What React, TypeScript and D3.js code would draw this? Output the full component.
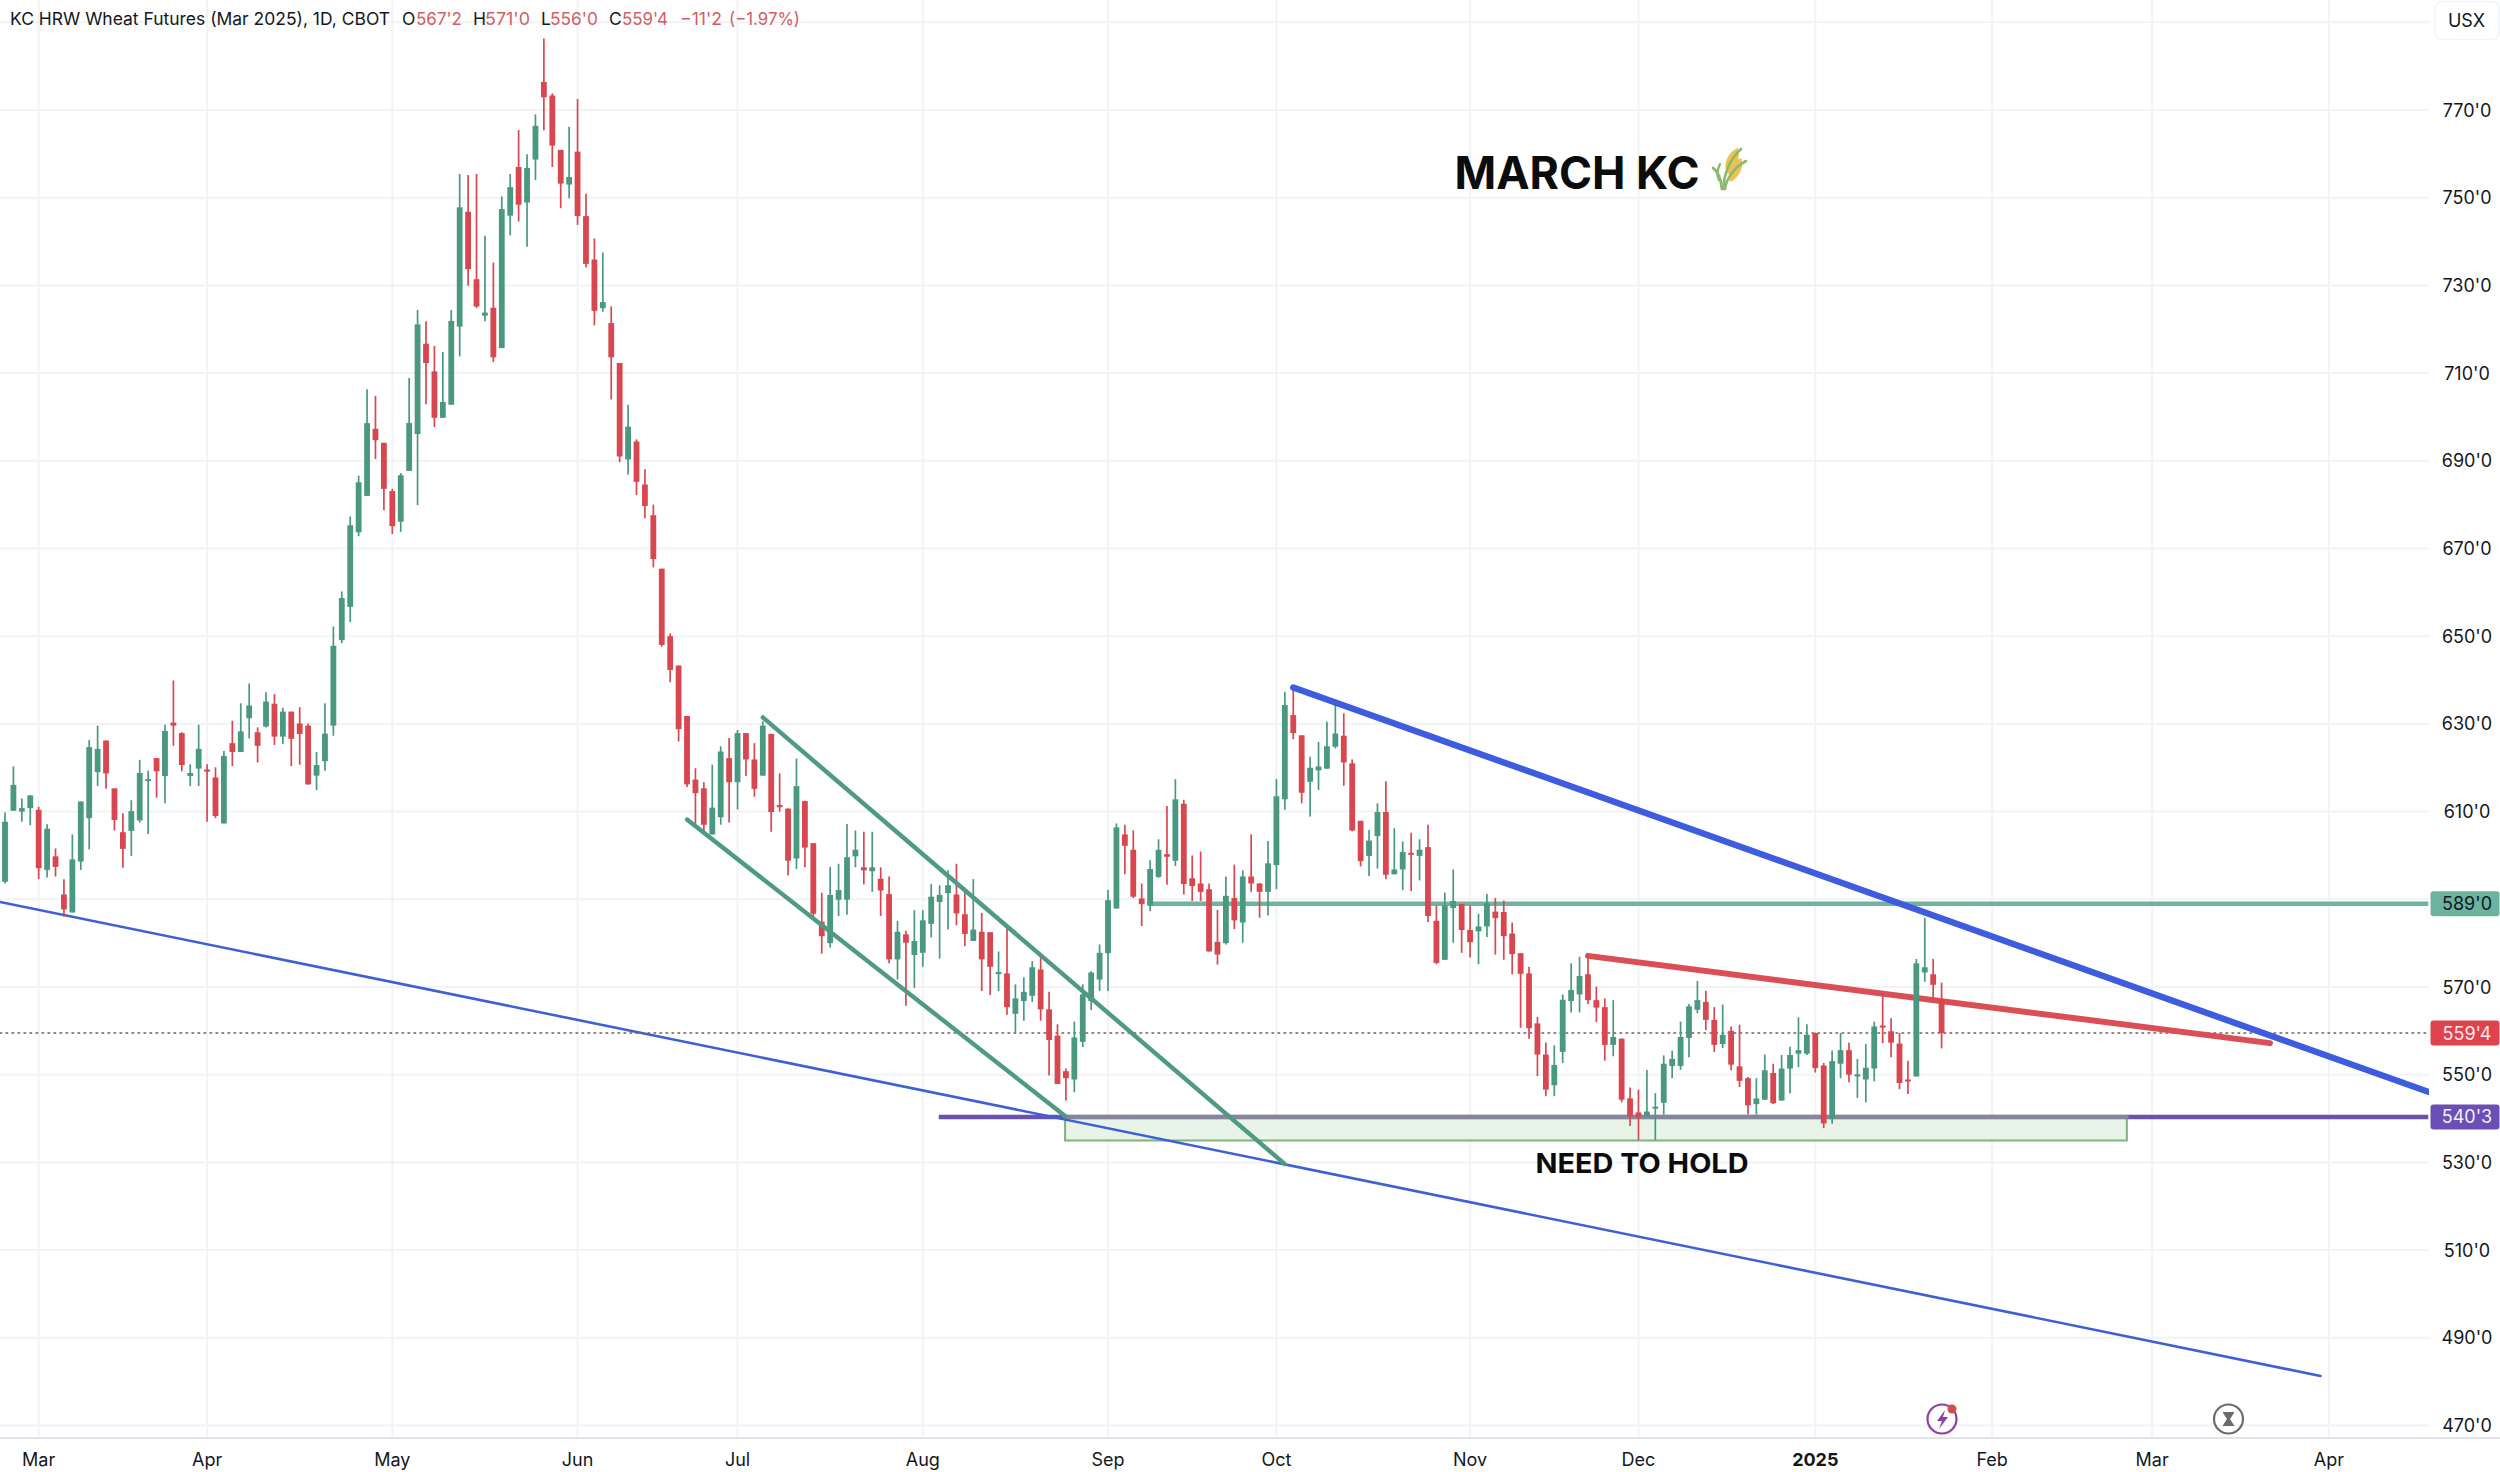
import React from "react";
import * as d3 from "d3";

const highs = [
609.8,620.3,613.0,613.7,611.1,607.1,601.6,594.6,604.8,612.3,
626.3,629.6,626.2,615.3,609.6,612.6,621.8,619.3,622.2,629.8,
639.9,628.1,620.8,629.8,620.8,620.1,623.8,630.7,634.7,639.2,
629.2,637.2,636.8,633.7,632.8,633.8,630.1,623.6,634.7,652.2,
660.2,677.3,686.6,706.3,704.8,694.1,683.6,687.2,708.9,724.4,
721.8,716.2,714.8,724.4,755.4,755.2,755.4,741.3,735.2,750.3,
755.4,765.4,759.9,769.0,786.3,773.8,760.9,766.2,772.5,750.9,
740.7,737.5,725.2,712.3,702.8,694.9,688.1,680.0,665.4,650.6,
643.3,631.8,619.9,616.7,620.7,624.9,626.8,628.6,627.9,625.6,
630.6,627.8,618.7,610.7,622.1,612.5,602.8,591.5,597.4,598.1,
607.2,605.7,605.4,605.4,597.3,595.2,585.1,582.8,587.5,587.5,
593.5,593.2,596.6,598.1,592.7,594.6,586.9,582.5,578.1,583.8,
570.6,572.2,575.9,577.5,568.9,561.5,551.4,562.1,570.6,573.6,
579.7,592.1,607.3,607.0,605.7,593.6,598.9,603.7,611.3,617.4,
612.7,600.0,600.9,593.6,587.6,595.2,597.9,596.6,604.8,593.7,
603.3,617.4,637.3,638.3,627.4,622.5,625.9,630.5,634.9,632.4,
621.9,607.9,605.8,611.9,616.9,606.2,603.2,605.2,603.7,607.0,
588.6,591.5,596.8,588.9,588.6,586.7,591.2,590.3,589.7,584.7,
577.7,574.6,563.2,557.3,556.7,568.3,575.4,576.9,576.9,570.1,
567.4,567.0,558.3,547.1,546.6,551.1,545.8,554.4,555.5,562.1,
566.1,571.4,569.1,565.4,566.0,561.0,561.4,549.5,549.2,554.6,
552.5,554.5,556.4,563.1,561.5,559.6,552.7,555.5,559.5,557.3,
553.6,557.0,562.1,568.6,562.9,559.5,553.2,576.4,585.8,576.4,
571.0];

const lows = [
593.6,610.2,607.7,606.9,594.6,595.0,595.2,586.0,587.0,596.7,
601.4,615.8,615.2,605.7,597.2,599.9,607.5,604.9,613.2,611.9,
625.0,619.2,615.8,615.8,607.7,608.5,607.3,620.4,623.6,626.7,
621.2,629.2,625.2,625.4,620.4,620.7,616.2,614.9,619.3,627.3,
648.4,653.2,672.8,682.0,690.4,678.7,673.3,673.8,687.7,679.9,
702.9,697.7,699.8,702.8,713.8,729.9,724.8,721.8,712.5,715.7,
741.4,744.6,738.8,754.0,765.4,757.0,747.6,749.9,743.8,734.1,
720.9,724.0,704.0,689.7,686.9,682.2,676.9,665.7,647.6,639.5,
626.0,615.6,607.2,605.6,604.8,607.0,607.5,610.5,618.1,613.4,
618.2,605.4,610.0,595.4,596.9,597.3,585.3,577.6,579.0,586.2,
586.5,597.3,593.4,591.7,586.2,575.4,571.7,565.7,569.8,574.6,
581.3,576.5,583.1,584.1,579.3,580.5,569.1,568.2,569.1,563.7,
559.5,562.3,566.6,562.3,549.8,547.9,544.1,546.0,556.3,564.7,
569.1,569.1,587.9,595.7,590.3,583.9,587.3,594.9,593.3,597.6,
591.1,589.6,589.6,578.1,575.1,579.7,583.2,580.1,591.7,585.8,
586.3,592.3,610.4,626.5,611.9,608.9,614.9,619.7,624.4,615.9,
605.5,597.5,595.3,597.0,594.6,595.7,592.1,591.9,594.3,584.8,
575.2,576.2,580.1,577.8,576.7,575.2,581.4,577.4,576.2,572.9,
560.7,558.2,549.7,545.1,545.1,552.7,564.2,564.2,566.1,562.0,
553.2,554.2,543.7,538.3,535.1,540.5,535.1,540.9,549.2,551.1,
554.0,564.0,560.2,555.2,556.1,551.0,547.2,540.9,540.9,544.2,
543.3,544.1,545.7,551.7,554.5,550.5,537.8,538.8,549.2,548.3,
544.7,543.7,548.5,557.2,554.0,546.7,545.6,549.6,571.2,567.4,
556.0];

const opens = [
594.0,610.2,610.0,610.8,610.4,596.7,599.8,591.1,587.0,598.6,
608.5,619.0,626.2,615.3,605.3,605.6,608.0,617.1,622.2,618.1,
630.3,627.9,618.1,619.8,619.6,617.8,607.3,625.6,623.6,631.3,
628.1,629.4,634.6,627.1,632.8,630.1,629.6,618.2,621.5,629.6,
649.1,656.7,673.7,682.0,697.3,694.1,683.1,676.1,687.7,696.1,
716.7,710.4,699.8,702.8,720.6,746.8,731.4,723.1,724.9,715.7,
745.9,757.0,748.9,758.7,776.4,773.3,760.9,753.0,760.5,745.8,
735.9,724.8,721.4,712.3,690.3,694.4,684.6,677.6,665.4,650.0,
643.3,631.8,617.3,615.3,604.8,608.7,622.2,616.7,627.9,621.9,
618.2,627.7,611.5,610.7,599.3,612.4,602.8,584.9,580.0,589.9,
589.9,599.8,597.3,596.4,594.7,591.2,576.3,582.0,577.3,577.8,
584.4,589.4,591.4,591.1,586.6,580.5,582.6,582.5,573.0,573.1,
563.9,566.8,568.0,574.0,564.9,558.9,550.8,548.9,557.5,566.8,
571.7,577.7,587.9,604.8,601.3,590.2,588.6,595.1,600.3,598.8,
611.8,594.8,593.6,592.3,580.3,580.0,590.3,584.7,595.2,593.6,
591.7,597.8,612.8,632.0,627.4,616.8,619.4,619.8,624.8,627.3,
621.0,607.9,599.9,604.4,609.9,595.7,596.8,600.6,599.9,601.9,
585.1,576.2,588.0,588.9,583.0,582.7,583.8,587.2,587.1,582.2,
577.7,573.1,561.7,554.6,547.6,555.2,566.8,568.3,572.9,567.0,
565.4,556.8,558.2,544.6,541.4,540.5,542.3,543.6,552.0,552.0,
558.4,564.8,566.6,562.5,557.0,560.0,551.9,549.2,543.3,544.3,
550.4,544.1,551.4,554.8,554.8,559.5,552.1,540.0,552.5,555.6,
549.6,548.9,551.4,561.2,559.9,557.1,548.9,549.6,573.3,572.9,
567.25];

const closes = [
607.7,616.1,610.8,613.7,597.1,606.1,597.4,587.7,599.1,612.3,
624.7,624.3,618.7,608.1,601.5,610.1,618.8,617.4,619.2,628.4,
629.6,620.6,618.8,624.3,619.1,609.0,622.7,623.6,628.3,634.2,
625.0,635.1,627.1,632.8,626.6,627.7,616.2,620.6,627.8,647.8,
658.7,675.3,685.1,698.6,694.7,683.6,675.1,686.7,698.6,721.1,
712.3,699.8,703.4,721.9,747.8,733.7,725.2,723.8,713.6,747.4,
752.4,748.4,756.8,766.4,772.9,761.9,753.2,754.7,745.8,734.9,
724.2,726.2,713.6,691.0,697.8,685.2,679.7,667.6,648.0,642.3,
628.8,616.2,614.2,607.0,610.9,623.7,616.7,627.9,621.9,615.2,
629.6,609.9,611.0,598.8,615.8,601.8,586.7,581.6,591.0,592.1,
599.6,601.3,596.6,597.3,592.0,576.3,582.6,580.1,580.5,585.2,
590.6,591.0,593.2,586.8,582.1,583.1,576.3,574.6,573.4,565.4,
567.4,568.9,574.5,564.9,557.9,547.9,549.2,558.5,568.3,573.3,
577.8,589.8,606.4,602.2,590.6,588.9,596.9,601.3,599.7,612.8,
593.5,593.0,591.7,578.1,577.4,590.8,585.2,595.2,593.6,591.7,
598.2,613.5,634.3,627.9,614.3,620.0,620.3,624.9,627.8,621.2,
605.7,598.7,603.4,609.9,595.6,596.8,600.8,600.3,601.3,586.2,
575.5,588.6,589.6,583.0,580.2,583.8,589.1,585.7,581.6,577.5,
573.0,560.6,554.6,546.6,552.2,567.1,569.3,572.5,567.0,565.3,
556.8,558.6,544.3,540.5,540.4,541.6,542.7,552.5,553.6,558.6,
565.6,567.0,562.5,556.8,559.1,552.3,548.6,543.0,544.6,551.0,
543.5,551.4,554.5,555.6,559.1,551.5,538.9,553.1,555.6,550.0,
550.1,551.6,561.0,560.8,557.3,548.1,548.5,575.4,574.5,570.5,
559.5];

// Month ticks on the time axis: label and the bar number it falls on
const monthLabels = ["Mar","Apr","May","Jun","Jul","Aug","Sep","Oct","Nov","Dec","2025","Feb","Mar","Apr"];
const monthBars = [5,25,47,69,88,110,132,152,175,195,216,237,256,277];
const gridPrices = [470,490,510,530,550,570,590,610,630,650,670,690,710,730,750,770,790];
const labelledPrices = [470,490,510,530,550,570,610,630,650,670,690,710,730,750,770];

// Drawings: [bar number, price] pairs
const channelUpper = [[91,631.5],[153,529.6]];
const channelLower = [[82,608.2],[126.9,540.6]];
const blueThick = [[154,638.3],[288.8,546.1]];
const blueThin = [[0.4,589.4],[276,481.3]];
const redTrend = [[189,577.1],[270,557.2]];
const tealLevel = [[136.7,589],[288.8,589]];
const purpleLevel = [[111.9,540.375],[288.8,540.375]];
const holdZoneBars = [126.9,253];
const holdZonePrices = [540.6,535];
const lastPrice = 559.5;

const W = 2500, H = 1472, PLOT_R = 2429, AXIS_Y = 1438;
const UP = "#4a9880", DOWN = "#d8474f", INK = "#131722", LEG_RED = "#cf5f67";

const x = d3.scaleLinear().domain([1, 231]).range([5, 1941.6]);
const y = d3.scaleLinear().domain([770, 570]).range([110, 987]);
const seg = d3.line<number[]>().x(d => x(d[0])).y(d => y(d[1]));

const FONT = "Inter, 'Liberation Sans', sans-serif";

const legendParts: [string, number, string][] = [
  ["KC HRW Wheat Futures (Mar 2025), 1D, CBOT", 10, INK],
  ["O", 402, INK], ["567'2", 416, LEG_RED],
  ["H", 473, INK], ["571'0", 485, LEG_RED],
  ["L", 541, INK], ["556'0", 550, LEG_RED],
  ["C", 609, INK], ["559'4", 622, LEG_RED],
  ["−11'2", 680, LEG_RED], ["(−1.97%)", 729, LEG_RED],
];
const legendWidths = [380, 0, 46, 0, 45, 0, 48, 0, 46, 42, 71];

function PriceTag({ price, text, fill, color }: { price: number; text: string; fill: string; color: string }) {
  return (
    <g>
      <rect x={2430.5} y={y(price) - 12.5} width={69} height={25} rx={3} fill={fill} />
      <text x={2467} y={y(price) + 6.5} textAnchor="middle" fontSize={18} fill={color} fontFamily={FONT}>{text}</text>
    </g>
  );
}

export default function App() {
  const candles = highs.map((h, i) => ({ bar: i + 1, h, l: lows[i], o: opens[i], c: closes[i] }));
  return (
    <svg width={W} height={H} viewBox={`0 0 ${W} ${H}`}
      style={{ position: "absolute", left: 0, top: 0, background: "#fff", display: "block" }}>
      <defs>
        <clipPath id="plot"><rect x={0} y={0} width={PLOT_R} height={AXIS_Y} /></clipPath>
      </defs>

      {/* grid */}
      <g stroke="#f2f3f5" strokeWidth={2}>
        {gridPrices.map(p => <line key={p} x1={0} x2={PLOT_R} y1={y(p)} y2={y(p)} />)}
        {monthBars.map((b, i) => <line key={i} x1={x(b)} x2={x(b)} y1={0} y2={AXIS_Y} />)}
      </g>
      <line x1={0} x2={W} y1={AXIS_Y} y2={AXIS_Y} stroke="#e0e3eb" strokeWidth={2} />

      {/* drawings under the candles */}
      <g clipPath="url(#plot)" fill="none" strokeLinecap="round">
        <path d={seg(tealLevel as number[][]) as string} stroke="#6fb3a0" strokeWidth={4.5} strokeLinecap="butt" />
        <rect x={x(holdZoneBars[0])} width={x(holdZoneBars[1]) - x(holdZoneBars[0])}
          y={y(holdZonePrices[0])} height={y(holdZonePrices[1]) - y(holdZonePrices[0])}
          fill="#e9f4e9" stroke="#7fb27f" strokeWidth={2} />
        <path d={seg(purpleLevel as number[][]) as string} stroke="#6a52ae" strokeWidth={4.5} strokeLinecap="butt" />
        <line x1={x(holdZoneBars[0])} x2={x(holdZoneBars[1])} y1={y(holdZonePrices[0]) + 1} y2={y(holdZonePrices[0]) + 1}
          stroke="#8c9a92" strokeOpacity={0.75} strokeWidth={4} />
        <path d={seg(blueThin as number[][]) as string} stroke="#3f5fd4" strokeWidth={2.6} />
        <line x1={0} x2={PLOT_R} y1={y(lastPrice)} y2={y(lastPrice)} stroke="#7c5558" strokeWidth={1.5} strokeDasharray="1.6 4.4" />
        <path d={seg(redTrend as number[][]) as string} stroke="#d94f55" strokeWidth={6} />
      </g>

      {/* candles */}
      <g>
        {candles.map(d => {
          const col = d.c >= d.o ? UP : DOWN;
          const top = y(Math.max(d.o, d.c));
          const bot = y(Math.min(d.o, d.c));
          return (
            <g key={d.bar}>
              <line x1={x(d.bar)} x2={x(d.bar)} y1={y(d.h)} y2={y(d.l)} stroke={col} strokeWidth={1.7} />
              <rect x={x(d.bar) - 2.9} width={5.8} y={top} height={Math.max(bot - top, 2)} fill={col} />
            </g>
          );
        })}
      </g>

      {/* drawings over the candles */}
      <g clipPath="url(#plot)" fill="none" strokeLinecap="round">
        <path d={seg(channelUpper as number[][]) as string} stroke="#4f9a82" strokeWidth={4.4} />
        <path d={seg(channelLower as number[][]) as string} stroke="#4f9a82" strokeWidth={4.4} />
        <path d={seg(blueThick as number[][]) as string} stroke="#3d5ce0" strokeWidth={6.4} />
      </g>

      {/* legend */}
      <g fontFamily={FONT} fontSize={17.5}>
        {legendParts.map(([t, px, c], i) => (
          <text key={i} x={px} y={25} fill={c}
            {...(legendWidths[i] ? { textLength: legendWidths[i], lengthAdjust: "spacingAndGlyphs" } : {})}>{t}</text>
        ))}
      </g>

      {/* annotations */}
      <text x={1454.5} y={189} fontFamily={FONT} fontWeight={700} fontSize={45.5} fill="#0c0c0c" textLength={245} lengthAdjust="spacingAndGlyphs">MARCH KC</text>
      <g fill="none" strokeLinecap="round">
        <path d="M1728 174 C1722 166 1727 152 1738 148 C1741 156 1736 170 1728 174Z" fill="#ecc350" stroke="none" />
        <path d="M1730 182 C1726 172 1732 162 1741 158 C1745 166 1739 178 1730 182Z" fill="#ecc350" stroke="none" />
        <path d="M1724 189 C1723 176 1729 160 1741 149" stroke="#8db96f" strokeWidth={2.6} />
        <path d="M1725 189 C1726 180 1733 168 1746 161" stroke="#8db96f" strokeWidth={2.6} />
        <path d="M1722 189 C1721 180 1719 172 1713 168" stroke="#8db96f" strokeWidth={2.8} />
        <path d="M1720 164 C1717 170 1717 176 1719 180" stroke="#8db96f" strokeWidth={2.4} />
      </g>
      <text x={1535.5} y={1172.5} fontFamily={FONT} fontWeight={700} fontSize={27.5} fill="#0c0c0c" textLength={213} lengthAdjust="spacingAndGlyphs">NEED TO HOLD</text>

      {/* price axis */}
      <g fontFamily={FONT} fontSize={18} fill={INK} textAnchor="middle">
        {labelledPrices.map(p => <text key={p} x={2467} y={y(p) + 6.5}>{`${p}'0`}</text>)}
      </g>
      <PriceTag price={589} text="589'0" fill="#6bb39f" color={INK} />
      <PriceTag price={lastPrice} text="559'4" fill="#e0434e" color="#fde8ea" />
      <PriceTag price={540.375} text="540'3" fill="#6b4fb4" color="#f3effb" />
      <rect x={2435} y={1.5} width={64} height={38} rx={7} fill="#fff" stroke="#f0f3fa" strokeWidth={1.5} />
      <text x={2466.5} y={26.5} textAnchor="middle" fontFamily={FONT} fontSize={18} fill={INK}>USX</text>

      {/* time axis */}
      <g fontFamily={FONT} fontSize={18} fill={INK} textAnchor="middle">
        {monthLabels.map((m, i) => (
          <text key={i} x={x(monthBars[i])} y={1466} fontWeight={m === "2025" ? 700 : 400}>{m}</text>
        ))}
      </g>

      {/* status icons */}
      <g fill="none">
        <circle cx={1942} cy={1419} r={14.5} stroke="#8e3fa8" strokeWidth={2.2} />
        <path d="M1945 1410 L1937 1421 L1942 1421 L1939 1429 L1948 1417 L1943 1417 Z" fill="#8e3fa8" />
        <circle cx={1952} cy={1409} r={4.5} fill="#d0504c" />
        <circle cx={2228.5} cy={1419} r={14.5} stroke="#6b6b6b" strokeWidth={2.2} />
        <path d="M2223 1412 H2234 L2234 1413 L2230 1419 L2234.5 1426 H2222.5 L2227 1419 L2223 1413 Z" fill="#6b6b6b" />
      </g>
    </svg>
  );
}
